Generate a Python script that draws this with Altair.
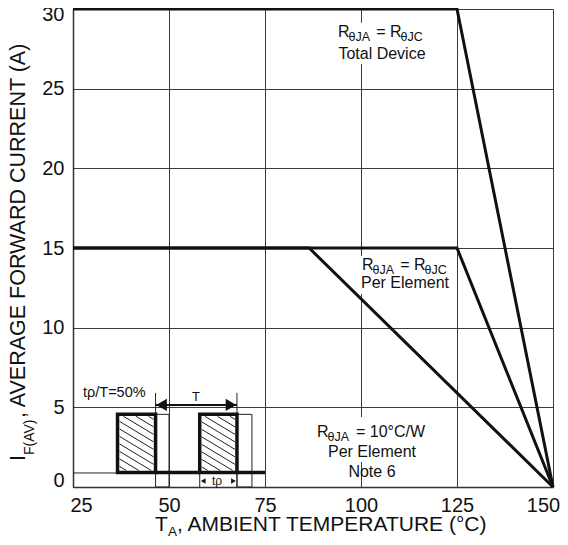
import altair as alt
import numpy as np
import pandas as pd

FONT = "Liberation Sans, Arial, Helvetica, sans-serif"

# ---------------- data ----------------
series_names = ["Total Device", "Per Element (RθJC)", "Per Element (10°C/W)"]
series_x = [[25, 125, 150], [25, 125, 150], [25, 86.5, 150]]
series_y = [[30, 30, 0], [15, 15, 0], [15, 15, 0]]

x_ticks = [25, 50, 75, 100, 125, 150]
y_ticks = [0, 5, 10, 15, 20, 25, 30]

# inset pulse sketch (data units)
pulse_x0 = [36.6, 58.0]
pulse_x1 = [46.5, 67.7]
pulse_lo = 0.91
pulse_hi = 4.56
ghost_x0 = [46.5, 67.7]
ghost_x1 = [50.0, 71.6]
low_x0 = [46.5, 67.7]
low_x1 = [58.0, 75.0]
thin_base = [25.0, 75.0, 0.88]
period = [46.5, 67.7, 5.15]          # x0, x1, y of the "T" arrow
period_tick_top = 5.9
tp_marks = [58.0, 67.7]

# annotation text pieces: x, y, text, size
ann_left_x = [94.0, 96.74, 103.95, 107.55, 110.29,
              100.26, 102.99, 110.2, 113.8, 116.54,
              88.54, 91.28, 98.70,
              27.6]
ann_left_y = [28.25, 28.0, 28.25, 28.25, 28.0,
              13.62, 13.37, 13.62, 13.62, 13.37,
              3.14, 2.89, 3.14,
              5.65]
ann_left_t = ["R", "θJA", "=", "R", "θJC",
              "R", "θJA", "=", "R", "θJC",
              "R", "θJA", "= 10°C/W",
              "tρ/T=50%"]
ann_left_s = [16, 12.5, 16, 16, 12.5,
              16, 12.5, 16, 16, 12.5,
              16, 12.5, 16,
              14.5]
ann_center_x = [105.47, 111.46, 102.86, 102.86, 57.03, 62.5]
ann_center_y = [26.87, 12.49, 1.88, 0.63, 5.40, 0.13]
ann_center_t = ["Total Device", "Per Element", "Per Element", "Note 6", "T", "tρ"]
ann_center_s = [16, 16, 16, 16, 13, 12]

# white boxes behind the annotations
box_x0 = [93.5, 99.5, 87.8]
box_x1 = [117.6, 123.8, 117.4]
box_y0 = [26.55, 12.12, 1.57]
box_y1 = [29.13, 14.5, 4.39]

# ---------------- geometry helpers ----------------
W, H = 480, 478
PX_X = W / (150 - 25)
PX_Y = H / 30.0

xs = alt.Scale(domain=[25, 150], nice=False, zero=False)
ys = alt.Scale(domain=[0, 30], nice=False, zero=False)

xaxis = alt.Axis(values=x_ticks, title=None, grid=True, ticks=False, tickSize=0,
                 labelFontSize=20, labelFont=FONT, labelColor="#111",
                 labelPadding=8, domainColor="#333", domainWidth=1.5,
                 gridColor="#3a3a3a", gridWidth=1,
                 labelAlign=alt.ExprRef(expr="datum.value == 25 ? 'left' : 'center'"),
                 labelOffset=alt.ExprRef(expr="datum.value == 25 ? -3 : (datum.value == 150 ? -10 : 0)"))
yaxis = alt.Axis(values=y_ticks, title=None, grid=True, ticks=False, tickSize=0,
                 labelFontSize=20, labelFont=FONT, labelColor="#111",
                 labelPadding=9, domainColor="#333", domainWidth=1.5,
                 gridColor="#3a3a3a", gridWidth=1,
                 labelOffset=alt.ExprRef(expr="datum.value == 30 ? 5 : (datum.value == 0 ? -7 : 0)"))


def X(f="x"):
    return alt.X(f"{f}:Q", scale=xs, axis=xaxis)


def Y(f="y"):
    return alt.Y(f"{f}:Q", scale=ys, axis=yaxis)


# curves
rows = []
for name, xv, yv in zip(series_names, series_x, series_y):
    for i, (a, b) in enumerate(zip(xv, yv)):
        rows.append({"s": name, "x": a, "y": b, "o": i})
curves_df = pd.DataFrame(rows)

curves = alt.Chart(curves_df).mark_line(color="#111", strokeWidth=3, strokeJoin="miter").encode(
    x=X(), y=Y(), detail="s:N", order="o:Q")

boxes = alt.Chart(pd.DataFrame({"x": box_x0, "x2": box_x1, "y": box_y0, "y2": box_y1})).mark_rect(
    fill="white", strokeWidth=0).encode(
    x=X(), x2="x2:Q", y=Y(), y2="y2:Q")

ghosts = alt.Chart(pd.DataFrame({"x": ghost_x0, "x2": ghost_x1,
                                 "y": [0, 0], "y2": [pulse_hi, pulse_hi]})).mark_rect(
    fillOpacity=0, stroke="#222", strokeWidth=1).encode(x=X(), x2="x2:Q", y=Y(), y2="y2:Q")

# thin rules (baseline, period ticks, t_p ticks)
thin_df = pd.DataFrame({
    "x": [thin_base[0], period[0], period[1], tp_marks[0], tp_marks[1]],
    "x2": [thin_base[1], period[0], period[1], tp_marks[0], tp_marks[1]],
    "y": [thin_base[2], pulse_hi, pulse_hi, 0, 0],
    "y2": [thin_base[2], period_tick_top, period_tick_top, pulse_lo, pulse_lo],
})
thin = alt.Chart(thin_df).mark_rule(color="#222", strokeWidth=1).encode(
    x=X(), x2="x2:Q", y=Y(), y2="y2:Q")

low = alt.Chart(pd.DataFrame({"x": low_x0, "x2": low_x1, "y": [pulse_lo] * 2})).mark_rule(
    color="#111", strokeWidth=3.5).encode(x=X(), x2="x2:Q", y=Y())

pulses = alt.Chart(pd.DataFrame({"x": pulse_x0, "x2": pulse_x1,
                                 "y": [pulse_lo] * 2, "y2": [pulse_hi] * 2})).mark_rect(
    fill="white", stroke="#111", strokeWidth=3.5).encode(x=X(), x2="x2:Q", y=Y(), y2="y2:Q")

# hatch lines inside the pulses (derived from the rectangles)
hrows = []
slope, step, inset = 0.6, 7.5, 2.0
for a, b in zip(pulse_x0, pulse_x1):
    w = (b - a) * PX_X - 2 * inset
    h = (pulse_hi - pulse_lo) * PX_Y - 2 * inset
    c = -slope * w + 3
    while c < h:
        xa = max(0.0, -c / slope)
        xb = min(w, (h - c) / slope)
        if xb > xa + 0.5:
            ya = c + slope * xa
            yb = c + slope * xb
            hrows.append({
                "x": a + (xa + inset) / PX_X, "x2": a + (xb + inset) / PX_X,
                "y": pulse_hi - (ya + inset) / PX_Y, "y2": pulse_hi - (yb + inset) / PX_Y})
        c += step
hatch = alt.Chart(pd.DataFrame(hrows)).mark_rule(color="#222", strokeWidth=1).encode(
    x=X(), x2="x2:Q", y=Y(), y2="y2:Q")

arrow = alt.Chart(pd.DataFrame({"x": [period[0]], "x2": [period[1]], "y": [period[2]]})).mark_rule(
    color="#111", strokeWidth=2).encode(x=X(), x2="x2:Q", y=Y())

head_df = pd.DataFrame({
    "x": [period[0] + 6 / PX_X, period[1] - 6 / PX_X, tp_marks[0] + 3.5 / PX_X, tp_marks[1] - 3.5 / PX_X],
    "y": [period[2], period[2], 0.38, 0.38],
    "shape": ["triangle-left", "triangle-right", "triangle-left", "triangle-right"],
    "size": [150, 150, 30, 30],
})
heads = alt.Chart(head_df).mark_point(filled=True, color="#111", opacity=1, strokeWidth=0).encode(
    x=X(), y=Y(), shape=alt.Shape("shape:N", scale=None),
    size=alt.Size("size:Q", scale=None))

left_txt = alt.Chart(pd.DataFrame({"x": ann_left_x, "y": ann_left_y, "t": ann_left_t,
                                   "s": ann_left_s})).mark_text(
    align="left", baseline="alphabetic", font=FONT, color="#111").encode(
    x=X(), y=Y(), text="t:N", size=alt.Size("s:Q", scale=None))
center_txt = alt.Chart(pd.DataFrame({"x": ann_center_x, "y": ann_center_y, "t": ann_center_t,
                                     "s": ann_center_s})).mark_text(
    align="center", baseline="alphabetic", font=FONT, color="#111").encode(
    x=X(), y=Y(), text="t:N", size=alt.Size("s:Q", scale=None))

# axis titles (with subscripts) as text placed in pixels around the plot
one = pd.DataFrame({"a": [0]})


def ptext(txt, px, py, size, angle=0):
    kw = dict(align="left", baseline="alphabetic", font=FONT, color="#111", fontSize=size)
    if angle:
        kw["angle"] = angle
    return alt.Chart(one).mark_text(**kw).encode(
        x=alt.value(px), y=alt.value(py), text=alt.value(txt))


titles = [
    ptext("T", 82, 522, 21),
    ptext("A", 95, 527, 13.5),
    ptext(", AMBIENT TEMPERATURE (°C)", 104, 522, 21),
    ptext("I", -48.5, 452, 21.5, 270),
    ptext("F(AV)", -39.5, 446, 14, 270),
    ptext(", AVERAGE FORWARD CURRENT (A)", -48.5, 409, 21.5, 270),
]

chart = alt.layer(
    boxes, ghosts, thin, low, curves, pulses, hatch, arrow, heads, left_txt, center_txt, *titles
).properties(
    width=W, height=H,
    autosize=alt.AutoSizeParams(type="none"),
    padding={"left": 65, "top": 1, "right": 7, "bottom": 50},
).configure_view(stroke="transparent").configure(background="white")

chart.save("out.html", embed_options={"renderer": "svg", "actions": False})
